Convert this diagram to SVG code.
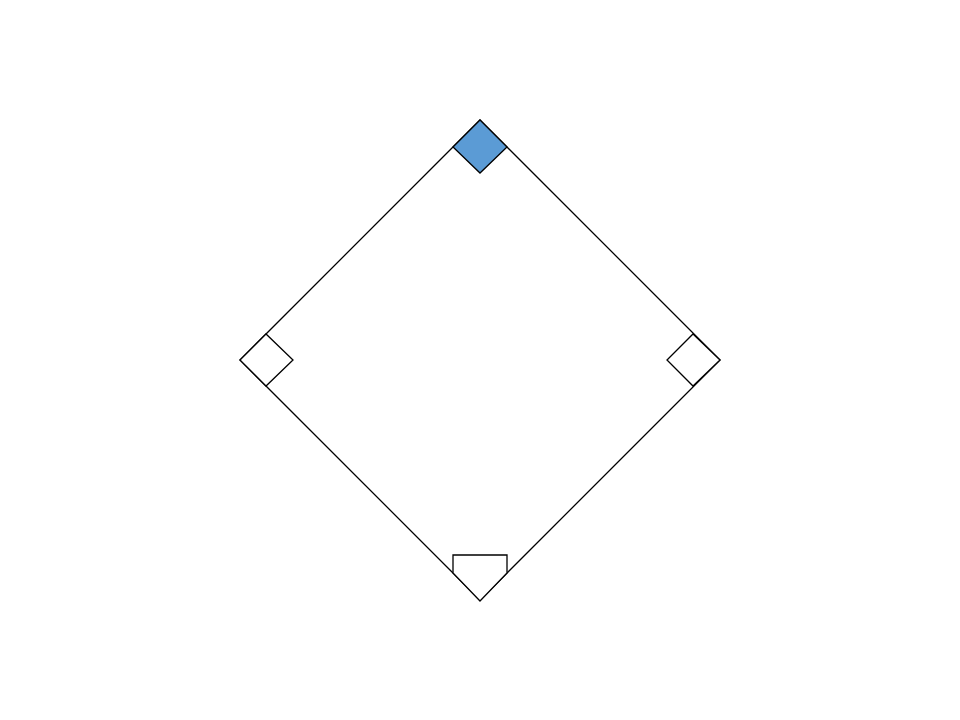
<svg xmlns="http://www.w3.org/2000/svg" width="960" height="720" viewBox="0 0 960 720">
<style>
.ln{fill:none;stroke:#000;stroke-width:1.3}
.base{fill:#fff;stroke:#000;stroke-width:1.3;stroke-linejoin:miter}
.second{fill:#5B9BD5;stroke:#000;stroke-width:1.3}
</style>
<rect width="960" height="720" fill="#fff"/>
<g id="connectors">
<polygon class="ln" points="480,120 720,360 480,600 240,360"/>
</g>
<g id="second-base"><polygon class="second" points="480,120 507,147 480,173 453,147"/></g>
<g id="first-base"><polygon class="base" points="720,360 693,334 667,360 693,386"/></g>
<g id="third-base"><polygon class="base" points="240,360 266,334 293,360 266,386"/></g>
<g id="home-plate"><polygon class="base" points="453,555 507,555 507,573 480,601 453,573"/></g>
</svg>
